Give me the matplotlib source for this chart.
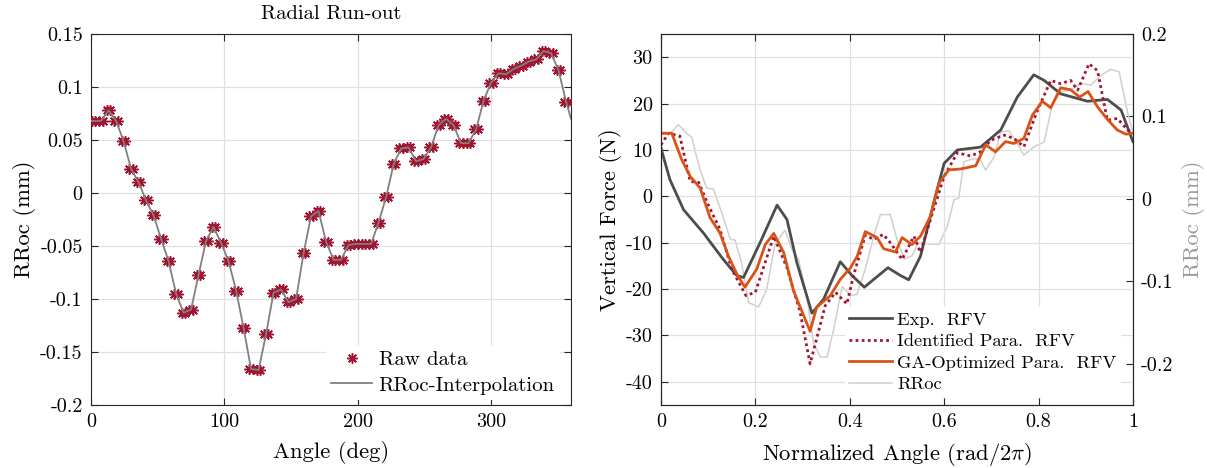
import matplotlib
matplotlib.use('Agg')
import matplotlib.pyplot as plt
from matplotlib.ticker import FuncFormatter

plt.rcParams.update({
    'font.family': 'cmr10',
    'mathtext.fontset': 'cm',
    'axes.unicode_minus': False,
    'axes.formatter.use_mathtext': True,
})

# ---------------- Left panel data (Radial run-out) ----------------
raw_angle = [0.5, 3.3, 6.1, 8.9, 11.75, 14.55, 17.4, 20.2, 23.0, 25.8, 28.6, 31.4,
             34.25, 37.05, 39.9, 42.7, 45.5, 48.3, 51.1, 53.9, 56.75, 59.55, 62.4, 65.2,
             68.0, 70.8, 73.6, 76.4, 79.25, 82.05, 84.9, 87.7, 90.5, 93.3, 96.1, 98.9,
             101.75, 104.55, 107.4, 110.2, 113.0, 115.8, 118.6, 121.4, 124.25, 127.05,
             129.9, 132.7, 135.5, 138.3, 141.1, 143.9, 146.75, 149.55, 152.4, 155.2,
             158.0, 160.8, 163.6, 166.4, 169.25, 172.05, 174.9, 177.7, 180.5, 183.3,
             186.1, 188.9, 191.75, 194.55, 197.4, 200.2, 203.0, 205.8, 208.6, 211.4,
             214.25, 217.05, 219.9, 222.7, 225.5, 228.3, 231.1, 233.9, 236.75, 239.55,
             242.4, 245.2, 248.0, 250.8, 253.6, 256.4, 259.25, 262.05, 264.9, 267.7,
             270.5, 273.3, 276.1, 278.9, 281.75, 284.55, 287.4, 290.2, 293.0, 295.8,
             298.6, 301.4, 304.25, 307.05, 309.9, 312.7, 315.5, 318.3, 321.1, 323.9,
             326.75, 329.55, 332.4, 335.2, 338.0, 340.8, 343.6, 346.4, 349.25, 352.05,
             354.9, 357.7]
raw_value = [0.068, 0.068, 0.068, 0.068, 0.078, 0.078, 0.068, 0.068, 0.049, 0.049,
             0.023, 0.023, 0.010, 0.010, -0.007, -0.007, -0.021, -0.021, -0.043, -0.043,
             -0.064, -0.064, -0.095, -0.095, -0.113, -0.113, -0.110, -0.110, -0.077, -0.077,
             -0.045, -0.045, -0.032, -0.032, -0.047, -0.047, -0.064, -0.064, -0.092, -0.092,
             -0.127, -0.127, -0.166, -0.166, -0.167, -0.167, -0.133, -0.133, -0.094, -0.094,
             -0.091, -0.091, -0.103, -0.103, -0.100, -0.100, -0.057, -0.057, -0.022, -0.022,
             -0.017, -0.017, -0.046, -0.046, -0.063, -0.063, -0.063, -0.063, -0.049, -0.049,
             -0.048, -0.048, -0.048, -0.048, -0.048, -0.048, -0.028, -0.028, -0.004, -0.004,
             0.027, 0.027, 0.042, 0.042, 0.043, 0.043, 0.030, 0.030, 0.032, 0.032,
             0.043, 0.043, 0.064, 0.064, 0.070, 0.070, 0.064, 0.064, 0.047, 0.047,
             0.047, 0.047, 0.060, 0.060, 0.087, 0.087, 0.104, 0.104, 0.113, 0.113,
             0.112, 0.112, 0.117, 0.117, 0.120, 0.120, 0.124, 0.124, 0.126, 0.126,
             0.134, 0.134, 0.132, 0.132, 0.116, 0.116, 0.086, 0.086]

interp_angle = [0.0, 1.9, 7.5, 13.2, 18.8, 24.4, 30.0, 35.7, 41.3, 46.9, 52.5, 58.1,
                63.8, 69.4, 75.0, 80.7, 86.3, 91.9, 97.5, 103.1, 108.8, 114.4, 120.0,
                125.7, 131.3, 136.9, 142.5, 148.1, 153.8, 159.4, 165.0, 170.6, 176.3,
                181.9, 187.5, 193.1, 198.8, 204.4, 210.0, 215.6, 221.3, 226.9, 232.5,
                238.1, 243.8, 249.4, 255.0, 260.6, 266.3, 271.9, 277.5, 283.1, 288.8,
                294.4, 300.0, 305.6, 311.3, 316.9, 322.5, 328.1, 333.8, 339.4, 345.0,
                350.6, 356.3, 360.0]
interp_value = [0.068, 0.068, 0.068, 0.078, 0.068, 0.049, 0.023, 0.010, -0.007, -0.021,
                -0.043, -0.064, -0.095, -0.113, -0.110, -0.077, -0.045, -0.032, -0.047,
                -0.064, -0.092, -0.127, -0.166, -0.167, -0.133, -0.094, -0.091, -0.103,
                -0.100, -0.057, -0.022, -0.017, -0.046, -0.063, -0.063, -0.049, -0.048,
                -0.048, -0.048, -0.028, -0.004, 0.027, 0.042, 0.043, 0.030, 0.032, 0.043,
                0.064, 0.070, 0.064, 0.047, 0.047, 0.060, 0.087, 0.104, 0.113, 0.112,
                0.117, 0.120, 0.124, 0.126, 0.134, 0.132, 0.116, 0.086, 0.070]

left_xticks = [0, 100, 200, 300]
left_yticks = [-0.2, -0.15, -0.1, -0.05, 0, 0.05, 0.1, 0.15]

# ---------------- Right panel data (RFV) ----------------
exp_x = [0.0, 0.019, 0.048, 0.090, 0.132, 0.161, 0.175, 0.21, 0.246, 0.267, 0.288,
         0.32, 0.345, 0.38, 0.405, 0.431, 0.451, 0.481, 0.508, 0.525, 0.55, 0.578,
         0.60, 0.628, 0.677, 0.72, 0.755, 0.79, 0.812, 0.847, 0.904, 0.946, 0.975, 1.0]
exp_y = [10.4, 3.6, -2.9, -7.9, -13.6, -17.1, -17.5, -10.0, -1.9, -5.0, -14.3,
         -25.2, -22.1, -14.1, -17.1, -19.6, -17.9, -15.4, -17.1, -18.0, -12.9, -1.4,
         7.1, 10.0, 10.6, 14.3, 21.4, 26.2, 25.0, 22.1, 20.5, 20.9, 18.6, 11.8]

ident_x = [0.0, 0.016, 0.04, 0.062, 0.08, 0.10, 0.125, 0.15, 0.18, 0.20, 0.239,
           0.267, 0.295, 0.316, 0.348, 0.37, 0.394, 0.408, 0.433, 0.451, 0.471,
           0.486, 0.511, 0.536, 0.55, 0.571, 0.60, 0.628, 0.656, 0.677, 0.699,
           0.727, 0.748, 0.769, 0.798, 0.826, 0.847, 0.868, 0.883, 0.907, 0.925,
           0.946, 0.967, 0.989, 1.0]
ident_y = [11.1, 13.6, 13.0, 3.2, 3.0, -1.8, -7.1, -15.7, -21.4, -20.7, -8.6,
           -15.4, -25.0, -36.1, -23.6, -20.7, -23.2, -17.1, -8.4, -9.3, -8.2,
           -10.0, -13.6, -8.6, -12.1, -5.0, 4.3, 9.4, 8.7, 9.6, 12.1,
           13.2, 12.5, 10.7, 18.6, 25.0, 24.3, 25.0, 22.9, 28.6, 27.1,
           16.4, 16.8, 14.3, 13.6]

ga_x = [0.0, 0.023, 0.044, 0.062, 0.083, 0.104, 0.125, 0.143, 0.161, 0.178, 0.203,
        0.221, 0.239, 0.26, 0.281, 0.316, 0.33, 0.359, 0.38, 0.401, 0.416, 0.433,
        0.458, 0.472, 0.497, 0.511, 0.532, 0.55, 0.571, 0.589, 0.61, 0.635, 0.667,
        0.688, 0.709, 0.73, 0.748, 0.769, 0.787, 0.808, 0.826, 0.847, 0.868, 0.887,
        0.905, 0.925, 0.946, 0.967, 0.985, 1.0]
ga_y = [13.6, 13.6, 7.9, 4.3, 1.8, -4.6, -7.9, -12.9, -16.8, -19.6, -15.7,
        -10.4, -8.0, -12.1, -20.4, -29.1, -23.9, -21.4, -17.9, -15.5, -12.9, -7.6,
        -8.9, -11.3, -12.0, -8.9, -10.4, -8.6, -4.3, 2.9, 5.7, 5.9, 6.6,
        11.1, 9.6, 11.8, 11.4, 12.5, 17.5, 20.5, 19.1, 23.4, 23.0, 21.4,
        22.6, 19.3, 16.6, 14.3, 13.4, 13.6]

rroc_x = [0.0, 0.019, 0.037, 0.055, 0.065, 0.083, 0.097, 0.111, 0.129, 0.147, 0.157,
          0.171, 0.186, 0.207, 0.224, 0.242, 0.263, 0.278, 0.292, 0.309, 0.323, 0.338,
          0.352, 0.366, 0.384, 0.401, 0.415, 0.433, 0.451, 0.465, 0.486, 0.50, 0.515,
          0.532, 0.546, 0.571, 0.589, 0.607, 0.621, 0.631, 0.642, 0.663, 0.677, 0.688,
          0.706, 0.72, 0.737, 0.755, 0.769, 0.79, 0.812, 0.829, 0.847, 0.868, 0.89,
          0.911, 0.932, 0.953, 0.971, 0.989, 1.0]
rroc_y = [0.079, 0.079, 0.090, 0.079, 0.075, 0.035, 0.013, 0.012, -0.017, -0.049, -0.050,
          -0.078, -0.126, -0.131, -0.110, -0.054, -0.038, -0.062, -0.074, -0.118, -0.174,
          -0.192, -0.192, -0.158, -0.106, -0.117, -0.116, -0.085, -0.045, -0.019, -0.019,
          -0.049, -0.073, -0.069, -0.053, -0.055, -0.055, -0.033, -0.001, 0.001, 0.045,
          0.049, 0.047, 0.035, 0.051, 0.081, 0.083, 0.067, 0.053, 0.063, 0.069, 0.114,
          0.130, 0.132, 0.140, 0.138, 0.150, 0.157, 0.154, 0.104, 0.081]

right_xticks = [0, 0.2, 0.4, 0.6, 0.8, 1]
force_ticks = [-40, -30, -20, -10, 0, 10, 20, 30]
rroc_ticks = [-0.2, -0.1, 0, 0.1, 0.2]

# ---------------- styling ----------------
AX = '#262626'
GRID = '#e0e0e0'
TICK_FS = 14.5
LABEL_FS = 16.3
fmt = FuncFormatter(lambda v, p: '0' if abs(v) < 1e-12 else ('%g' % v))

fig = plt.figure(figsize=(12.07, 4.68), dpi=100)


def style_axes(ax, right_ticks=True):
    for s in ax.spines.values():
        s.set_color(AX)
        s.set_linewidth(0.8)
    ax.tick_params(direction='in', length=5, width=0.8, color=AX,
                   labelsize=TICK_FS, labelcolor='black', top=True, right=right_ticks,
                   pad=6)
    ax.grid(True, color=GRID, linewidth=0.9)
    ax.set_axisbelow(True)


# Left panel
ax1 = fig.add_axes([0.0754, 0.1346, 0.3977, 0.7927])
ax1.plot(raw_angle, raw_value, ls='none', marker=(8, 2, 0), ms=7.5, mec='#A2142F',
         mfc='#A2142F', mew=1.1, label='Raw data', zorder=3)
ax1.plot(interp_angle, interp_value, color='#808080', lw=1.3,
         label='RRoc-Interpolation', zorder=4)
ax1.set_xlim(0, 360)
ax1.set_ylim(-0.2, 0.15)
ax1.set_xticks(left_xticks)
ax1.set_yticks(left_yticks)
ax1.xaxis.set_major_formatter(fmt)
ax1.yaxis.set_major_formatter(fmt)
style_axes(ax1)
ax1.set_xlabel('Angle (deg)', fontsize=LABEL_FS, labelpad=7)
ax1.set_ylabel('RRoc (mm)', fontsize=LABEL_FS, labelpad=3)
ax1.set_title('Radial Run-out', fontsize=14.8, pad=11)
leg1 = ax1.legend(loc='lower right', bbox_to_anchor=(0.977, 0.0135), fontsize=15,
                  frameon=True, fancybox=False, framealpha=1, facecolor='white',
                  edgecolor='none', handlelength=2.0, borderaxespad=0,
                  labelspacing=0.35, handletextpad=0.3, borderpad=0.25)

# Right panel
ax2 = fig.add_axes([0.5476, 0.1346, 0.391, 0.7927])
ax3 = ax2.twinx()
ax2.set_zorder(ax3.get_zorder() + 1)
ax2.patch.set_visible(False)

l4, = ax3.plot(rroc_x, rroc_y, color='#d3cec9', lw=1.1, label='RRoc')
l1, = ax2.plot(exp_x, exp_y, color='#4d4d4d', lw=2.0, label='Exp.  RFV')
l2, = ax2.plot(ident_x, ident_y, color='#A2142F', lw=2.0, ls=(0, (1, 1.2)),
               label='Identified Para.  RFV')
l3, = ax2.plot(ga_x, ga_y, color='#D95319', lw=2.0, label='GA-Optimized Para.  RFV')

ax2.set_xlim(0, 1)
ax2.set_ylim(-45, 35)
ax3.set_ylim(-0.25, 0.2)
ax2.set_xticks(right_xticks)
ax2.set_yticks(force_ticks)
ax3.set_yticks(rroc_ticks)
ax2.xaxis.set_major_formatter(fmt)
ax2.yaxis.set_major_formatter(fmt)
ax3.yaxis.set_major_formatter(fmt)
style_axes(ax2, right_ticks=False)
for s in ax3.spines.values():
    s.set_color(AX)
    s.set_linewidth(0.8)
ax3.tick_params(direction='in', length=5, width=0.8, color=AX, labelsize=TICK_FS,
                labelcolor='black', pad=6)
ax2.set_xlabel(r'Normalized Angle (rad/2$\pi$)', fontsize=LABEL_FS, labelpad=7)
ax2.set_ylabel('Vertical Force (N)', fontsize=LABEL_FS, labelpad=3)
ax3.set_ylabel('RRoc (mm)', fontsize=LABEL_FS, color='#9a9a9a', labelpad=6)

leg2 = ax2.legend(handles=[l1, l2, l3, l4], loc='lower right',
                  bbox_to_anchor=(0.975, 0.0216), fontsize=13.3, frameon=True,
                  fancybox=False, framealpha=1, facecolor='white', edgecolor='none',
                  handlelength=2.3, borderaxespad=0, labelspacing=0.3,
                  handletextpad=0.3, borderpad=0.25)

fig.savefig('out.png', dpi=100)
